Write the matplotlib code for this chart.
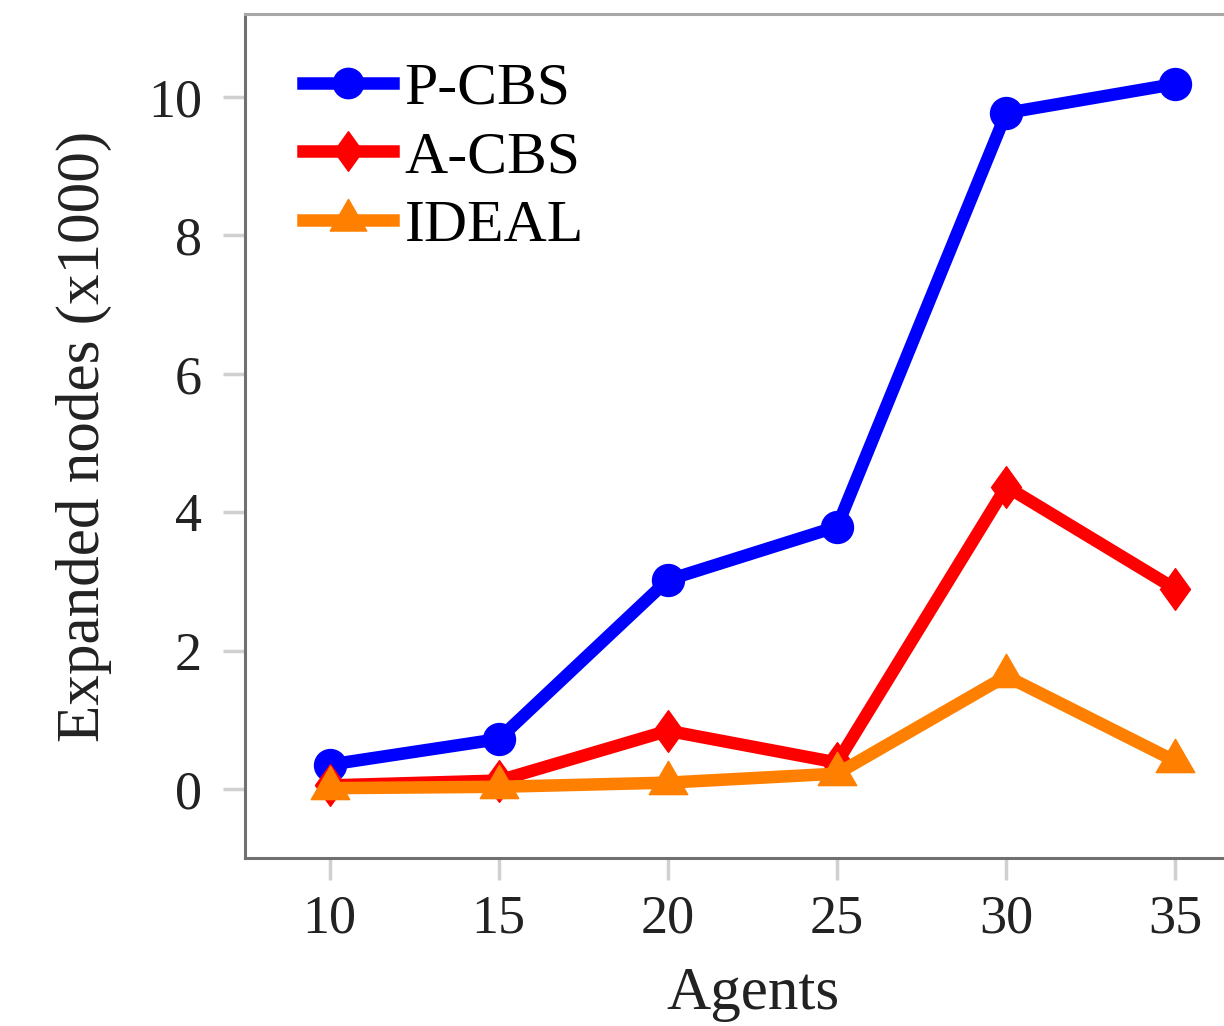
import matplotlib
matplotlib.use("Agg")
import matplotlib.pyplot as plt
from matplotlib.path import Path

# Expanded nodes (in thousands) against number of agents
agents = [10, 15, 20, 25, 30, 35]
p_cbs = [0.35, 0.72, 3.02, 3.79, 9.77, 10.19]
a_cbs = [0.05, 0.12, 0.84, 0.38, 4.37, 2.89]
ideal = [0.01, 0.03, 0.09, 0.22, 1.63, 0.40]

series_labels = ["P-CBS", "A-CBS", "IDEAL"]
series_colors = ["#0000ff", "#ff0000", "#ff8000"]
x_ticks = [10, 15, 20, 25, 30, 35]
y_ticks = [0, 2, 4, 6, 8, 10]

plt.rcParams["font.family"] = ["Liberation Serif", "DejaVu Serif"]
plt.rcParams["mathtext.fontset"] = "stix"

# markers centred on their centroid, like pgfplots' triangle* and diamond*
tri = Path([(0, 1), (-0.866, -0.5), (0.866, -0.5), (0, 1)],
           [Path.MOVETO, Path.LINETO, Path.LINETO, Path.CLOSEPOLY])
dia = Path([(0, 1), (0.72, 0), (0, -1), (-0.72, 0), (0, 1)],
           [Path.MOVETO, Path.LINETO, Path.LINETO, Path.LINETO, Path.CLOSEPOLY])

fig = plt.figure(figsize=(12.24, 10.26), dpi=100)
ax = fig.add_axes([0.2002, 0.1637, 0.8292, 0.8226])

lw = 9.0
ax.plot(agents, p_cbs, color=series_colors[0], lw=lw, marker="o",
        markersize=23, markeredgewidth=1, label=series_labels[0], zorder=3)
ax.plot(agents, a_cbs, color=series_colors[1], lw=lw, marker=dia,
        markersize=30, markeredgewidth=1, label=series_labels[1], zorder=4)
ax.plot(agents, ideal, color=series_colors[2], lw=lw, marker=tri,
        markersize=32, markeredgewidth=1, label=series_labels[2], zorder=5)

ax.set_xlim(7.5, 37.5)
ax.set_ylim(-1.0, 11.2)
ax.set_xticks(x_ticks)
ax.set_yticks(y_ticks)

for side in ("left", "bottom"):
    ax.spines[side].set_color("#707070")
    ax.spines[side].set_linewidth(2.2)
ax.spines["top"].set_color("#a8a8a8")
ax.spines["top"].set_linewidth(2.2)
ax.spines["right"].set_visible(False)

ax.tick_params(axis="both", direction="out", length=16, width=2.5,
               color="#d0d0d0", labelsize=39, labelcolor="#222222")
ax.tick_params(axis="y", pad=15)
ax.tick_params(axis="x", pad=10)

ax.set_xlabel("Agents", fontsize=44, color="#222222", labelpad=16)
ax.set_ylabel("Expanded nodes (x1000)", fontsize=44, color="#222222", labelpad=26)

leg = ax.legend(loc="upper left", frameon=False, fontsize=43,
                handlelength=1.5, handletextpad=0.2, labelspacing=0.23,
                borderaxespad=0.3, bbox_to_anchor=(0.016, 0.993))
for h in leg.legend_handles:
    h.set_markersize(h.get_markersize() * 0.95)

fig.savefig("out.png", dpi=100)
